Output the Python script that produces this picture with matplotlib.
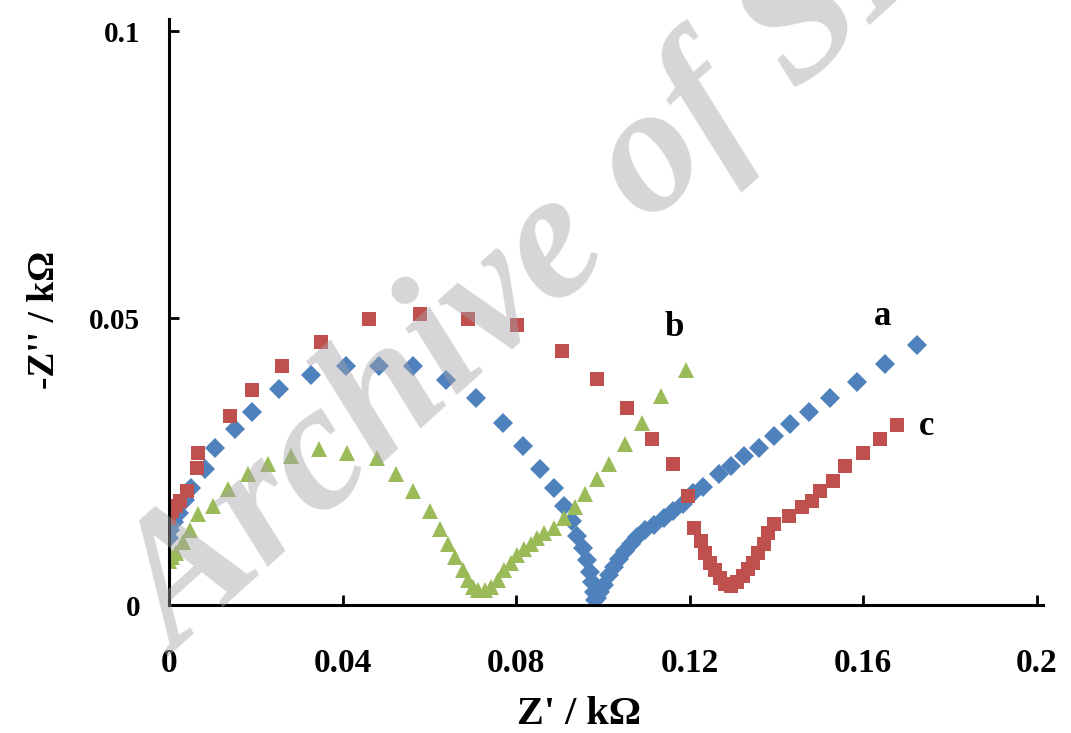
import matplotlib
matplotlib.use("Agg")
import matplotlib.pyplot as plt

# Nyquist data, Z' and -Z'' in kOhm
a_re = [0.0000, 0.0002, 0.0011, 0.0023, 0.0037, 0.0050, 0.0082, 0.0105, 0.0151, 0.0192,
        0.0252, 0.0327, 0.0407, 0.0483, 0.0563, 0.0638, 0.0707, 0.0769, 0.0815, 0.0854,
        0.0888, 0.0911, 0.0929, 0.0940, 0.0954, 0.0963, 0.0970, 0.0975, 0.0979, 0.0982,
        0.0986, 0.0993, 0.1002, 0.1014, 0.1025, 0.1037, 0.1050, 0.1064, 0.1078, 0.1096,
        0.1117, 0.1140, 0.1162, 0.1185, 0.1208, 0.1231, 0.1268, 0.1295, 0.1325, 0.1359,
        0.1394, 0.1432, 0.1474, 0.1524, 0.1586, 0.1650, 0.1723]
a_im = [0.0116, 0.0130, 0.0144, 0.0161, 0.0183, 0.0204, 0.0237, 0.0273, 0.0306, 0.0337,
        0.0377, 0.0401, 0.0417, 0.0417, 0.0417, 0.0393, 0.0360, 0.0318, 0.0277, 0.0237,
        0.0204, 0.0173, 0.0147, 0.0121, 0.0099, 0.0078, 0.0057, 0.0040, 0.0022, 0.0009,
        0.0012, 0.0022, 0.0035, 0.0052, 0.0067, 0.0081, 0.0095, 0.0107, 0.0118, 0.0130,
        0.0140, 0.0152, 0.0164, 0.0176, 0.0196, 0.0206, 0.0228, 0.0242, 0.0260, 0.0273,
        0.0294, 0.0315, 0.0337, 0.0360, 0.0389, 0.0420, 0.0453]

b_re = [0.0000, 0.0007, 0.0016, 0.0032, 0.0048, 0.0066, 0.0101, 0.0135, 0.0181, 0.0227,
        0.0281, 0.0346, 0.0410, 0.0478, 0.0522, 0.0563, 0.0602, 0.0625, 0.0643, 0.0659,
        0.0677, 0.0689, 0.0700, 0.0712, 0.0728, 0.0741, 0.0757, 0.0773, 0.0787, 0.0803,
        0.0819, 0.0833, 0.0849, 0.0865, 0.0888, 0.0911, 0.0936, 0.0959, 0.0986, 0.1014,
        0.1050, 0.1089, 0.1135, 0.1192]
b_im = [0.0076, 0.0083, 0.0090, 0.0109, 0.0130, 0.0159, 0.0173, 0.0202, 0.0228, 0.0246,
        0.0260, 0.0272, 0.0265, 0.0256, 0.0228, 0.0199, 0.0164, 0.0133, 0.0107, 0.0083,
        0.0061, 0.0043, 0.0031, 0.0026, 0.0026, 0.0031, 0.0043, 0.0061, 0.0073, 0.0087,
        0.0097, 0.0107, 0.0116, 0.0125, 0.0135, 0.0152, 0.0170, 0.0194, 0.0220, 0.0246,
        0.0280, 0.0317, 0.0365, 0.0410]

c_re = [0.0000, 0.0007, 0.0016, 0.0025, 0.0041, 0.0064, 0.0066, 0.0140, 0.0192, 0.0259,
        0.0350, 0.0460, 0.0579, 0.0689, 0.0801, 0.0906, 0.0986, 0.1055, 0.1112, 0.1162,
        0.1197, 0.1210, 0.1227, 0.1236, 0.1247, 0.1259, 0.1270, 0.1282, 0.1295, 0.1309,
        0.1323, 0.1334, 0.1346, 0.1357, 0.1371, 0.1380, 0.1394, 0.1428, 0.1460, 0.1483,
        0.1501, 0.1531, 0.1558, 0.1600, 0.1638, 0.1677]
c_im = [0.0151, 0.0164, 0.0173, 0.0182, 0.0199, 0.0239, 0.0265, 0.0329, 0.0375, 0.0417,
        0.0458, 0.0498, 0.0507, 0.0498, 0.0488, 0.0443, 0.0394, 0.0343, 0.0289, 0.0246,
        0.0190, 0.0135, 0.0111, 0.0090, 0.0074, 0.0061, 0.0047, 0.0036, 0.0033, 0.0040,
        0.0050, 0.0062, 0.0074, 0.0090, 0.0107, 0.0125, 0.0142, 0.0156, 0.0170, 0.0182,
        0.0199, 0.0216, 0.0242, 0.0265, 0.0289, 0.0313]

x_ticks = [0, 0.04, 0.08, 0.12, 0.16, 0.2]
x_tick_labels = ["0", "0.04", "0.08", "0.12", "0.16", "0.2"]
y_ticks = [0, 0.05, 0.1]
y_tick_labels = ["0", "0.05", "0.1"]

plt.rcParams['font.family'] = ['Liberation Serif', 'DejaVu Serif']
plt.rcParams['font.weight'] = 'bold'

fig = plt.figure(figsize=(10.71, 7.33), dpi=100)
ax = fig.add_axes([0.158, 0.1746, 0.816, 0.80])

ax.plot(a_re, a_im, 'D', color='#4F81BD', markersize=10, markeredgewidth=0, linestyle='none')
ax.plot(c_re, c_im, 's', color='#C0504D', markersize=10, markeredgewidth=0, linestyle='none')
ax.plot(b_re, b_im, '^', color='#9BBB59', markersize=11.5, markeredgewidth=0, linestyle='none')

ax.text(0.1645, 0.0502, 'a', fontsize=25, fontweight='bold', ha='center', va='center')
ax.text(0.1165, 0.0484, 'b', fontsize=25, fontweight='bold', ha='center', va='center')
ax.text(0.1746, 0.0311, 'c', fontsize=25, fontweight='bold', ha='center', va='center')

ax.set_xlim(0, 0.2015)
ax.set_ylim(0, 0.1022)
ax.set_xticks(x_ticks)
ax.set_xticklabels(x_tick_labels, fontsize=24, fontweight='bold')
ax.set_yticks(y_ticks)
ax.set_yticklabels(y_tick_labels, fontsize=21, fontweight='bold')
ax.tick_params(axis='x', direction='in', length=7, width=2, pad=31)
ax.tick_params(axis='y', direction='in', length=7, width=2, pad=21)

for s in ['top', 'right']:
    ax.spines[s].set_visible(False)
for s in ['left', 'bottom']:
    ax.spines[s].set_linewidth(2.2)

fig.text(0.541, 0.025, "Z' / k\u03a9", fontsize=29, fontweight='bold', ha='center', va='center')
fig.text(0.042, 0.563, "-Z'' / k\u03a9", fontsize=27, fontweight='bold', ha='center', va='center',
         rotation=90)

# watermark over the plot
fig.text(0.166, 0.104, "Archive of SID", fontsize=132, fontweight='bold', fontstyle='italic',
         color='#a4a4aa', alpha=0.45, ha='left', va='baseline', rotation=42,
         rotation_mode='anchor', zorder=10)

plt.savefig('out.png', dpi=100)
